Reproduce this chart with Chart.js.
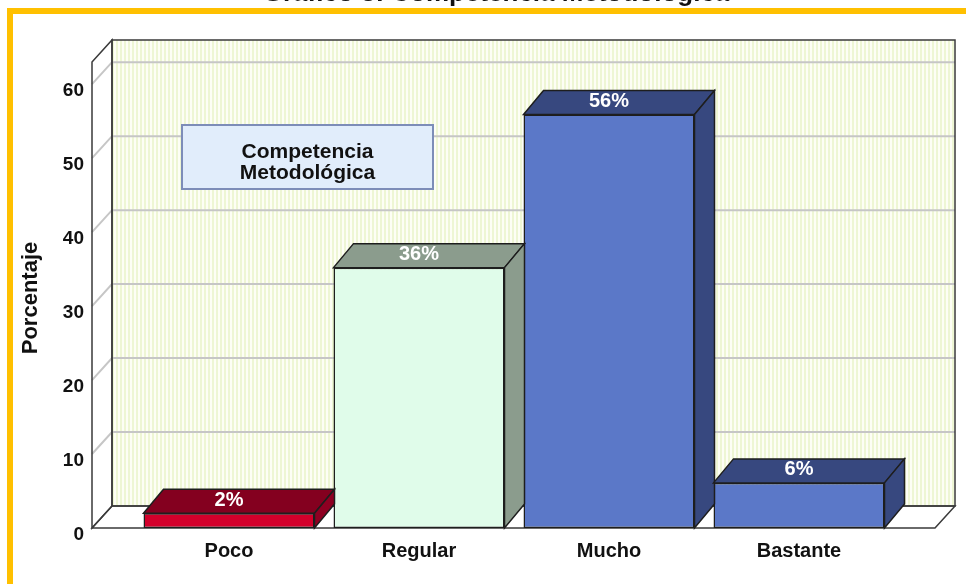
<!DOCTYPE html>
<html><head><meta charset="utf-8">
<script src="https://cdn.jsdelivr.net/npm/chart.js@4/dist/chart.umd.min.js"></script>
<style>
html,body{margin:0;padding:0;background:#fff;overflow:hidden;width:966px;height:584px;}
#wrap{position:absolute;left:0;top:-30px;width:966px;height:614px;}
#frame{position:absolute;left:7px;top:8px;width:1100px;height:1100px;border-left:6px solid #ffc000;border-top:6px solid #ffc000;box-sizing:border-box;}
</style></head>
<body>
<div id="wrap"><canvas id="c" width="966" height="614"></canvas></div>
<div id="frame"></div>
<script>
const categories = ['Poco', 'Regular', 'Mucho', 'Bastante'];
const values = [2.0, 35.2, 55.9, 6.1];
const valueLabels = ['2%', '36%', '56%', '6%'];
const yTicks = [0, 10, 20, 30, 40, 50, 60];
const titleText = 'Gráfico 3: Competencia Metodológica';
const yTitle = 'Porcentaje';
const boxLines = ['Competencia', 'Metodológica'];
const frontColors = ['#d3002b', '#e0fcea', '#5b78c8', '#5b78c8'];
const topColors = ['#84001f', '#8b9c8d', '#37487f', '#37487f'];
const sideColors = ['#8e0022', '#8b9c8d', '#37487f', '#37487f'];

const WDX = 20, WDY = -22, BDX = 20, BDY = -24;
const FONT = "'Liberation Sans', Arial, sans-serif";

function poly(ctx, pts, fill, stroke, lw) {
  ctx.beginPath();
  ctx.moveTo(pts[0][0], pts[0][1]);
  for (let i = 1; i < pts.length; i++) ctx.lineTo(pts[i][0], pts[i][1]);
  ctx.closePath();
  if (fill) { ctx.fillStyle = fill; ctx.fill(); }
  if (stroke) { ctx.strokeStyle = stroke; ctx.lineWidth = lw || 1.5; ctx.stroke(); }
}

let stripe = null;
function getStripe(ctx) {
  if (stripe) return stripe;
  const off = document.createElement('canvas');
  off.width = 4; off.height = 1;
  const o = off.getContext('2d');
  o.fillStyle = '#fdfef5'; o.fillRect(0, 0, 4, 1);
  o.fillStyle = '#eef6d4'; o.fillRect(0, 0, 2, 1);
  stripe = ctx.createPattern(off, 'repeat');
  return stripe;
}

const threeD = {
  id: 'threeD',
  beforeDatasetsDraw(chart) {
    const { ctx, chartArea: ca, scales: { y } } = chart;
    const L = ca.left - 42, R = ca.right + 41, T = ca.top, B = ca.bottom;
    ctx.save();
    ctx.fillStyle = getStripe(ctx);
    ctx.fillRect(L + WDX, T + WDY, R - L, B - T);
    poly(ctx, [[L, T], [L + WDX, T + WDY], [L + WDX, B + WDY], [L, B]], '#ffffff');
    poly(ctx, [[L, B], [R, B], [R + WDX, B + WDY], [L + WDX, B + WDY]], '#ffffff');
    ctx.strokeStyle = '#c6c6c6'; ctx.lineWidth = 2;
    yTicks.forEach(v => {
      if (v === 0) return;
      const py = y.getPixelForValue(v);
      ctx.beginPath();
      ctx.moveTo(L, py);
      ctx.lineTo(L + WDX, py + WDY);
      ctx.lineTo(R + WDX, py + WDY);
      ctx.stroke();
    });
    ctx.strokeStyle = '#3a3a3a'; ctx.lineWidth = 1.5;
    ctx.strokeRect(L + WDX, T + WDY, R - L, B - T);
    poly(ctx, [[L, T], [L + WDX, T + WDY], [L + WDX, B + WDY], [L, B]], null, '#3a3a3a', 1.5);
    poly(ctx, [[L, B], [R, B], [R + WDX, B + WDY], [L + WDX, B + WDY]], null, '#3a3a3a', 1.5);
    ctx.restore();
  },
  afterDatasetsDraw(chart) {
    const { ctx } = chart;
    const meta = chart.getDatasetMeta(0);
    ctx.save();
    meta.data.forEach((bar, i) => {
      const p = bar.getProps(['x', 'y', 'base', 'width'], true);
      const l = p.x - p.width / 2, r = p.x + p.width / 2, top = p.y, base = p.base;
      poly(ctx, [[l, top], [l + BDX, top + BDY], [r + BDX, top + BDY], [r, top]], topColors[i], '#1e1e1e', 1.5);
      poly(ctx, [[r, top], [r + BDX, top + BDY], [r + BDX, base + BDY], [r, base]], sideColors[i], '#1e1e1e', 1.5);
      ctx.fillStyle = '#ffffff';
      ctx.font = 'bold 20px ' + FONT;
      ctx.textAlign = 'center'; ctx.textBaseline = 'middle';
      ctx.fillText(valueLabels[i], p.x, top - 13);
    });
    ctx.restore();
  },
  afterDraw(chart) {
    const { ctx, chartArea: ca, scales: { x, y } } = chart;
    const L = ca.left - 42, B = ca.bottom;
    ctx.save();
    ctx.fillStyle = '#111';
    ctx.font = 'bold 19px ' + FONT;
    ctx.textAlign = 'right'; ctx.textBaseline = 'middle';
    yTicks.forEach(v => ctx.fillText(String(v), L - 8, y.getPixelForValue(v) + 7));
    ctx.font = 'bold 20px ' + FONT;
    ctx.textAlign = 'center';
    categories.forEach((c, i) => ctx.fillText(c, x.getPixelForValue(i), B + 23));
    ctx.save();
    ctx.translate(31, (ca.top + ca.bottom) / 2 + 3);
    ctx.rotate(-Math.PI / 2);
    ctx.font = 'bold 22px ' + FONT;
    ctx.fillText(yTitle, 0, 0);
    ctx.restore();
    const bx = ca.left + 48, by = ca.top + 63, bw = 251, bh = 64;
    ctx.fillStyle = '#e1edfb'; ctx.fillRect(bx, by, bw, bh);
    ctx.strokeStyle = '#7d8db8'; ctx.lineWidth = 2; ctx.strokeRect(bx, by, bw, bh);
    ctx.fillStyle = '#111';
    ctx.font = 'bold 21px ' + FONT;
    ctx.fillText(boxLines[0], bx + bw / 2, by + 27);
    ctx.fillText(boxLines[1], bx + bw / 2, by + 48);
    ctx.font = 'bold 26px ' + FONT;
    ctx.textBaseline = 'alphabetic';
    ctx.fillText(titleText, 496, 30.5);
    ctx.restore();
  }
};

new Chart(document.getElementById('c'), {
  type: 'bar',
  data: {
    labels: categories,
    datasets: [{
      data: values,
      backgroundColor: frontColors,
      borderColor: '#1e1e1e',
      borderWidth: 1.5,
      borderSkipped: false,
      barPercentage: 0.9,
      categoryPercentage: 1.0
    }]
  },
  options: {
    responsive: false,
    animation: false,
    events: [],
    layout: { padding: { left: 134, right: 72, top: 92, bottom: 56 } },
    plugins: { legend: { display: false }, title: { display: false }, tooltip: { enabled: false } },
    scales: {
      x: { display: false },
      y: { display: false, min: 0, max: 63 }
    }
  },
  plugins: [threeD]
});
</script>
</body></html>
